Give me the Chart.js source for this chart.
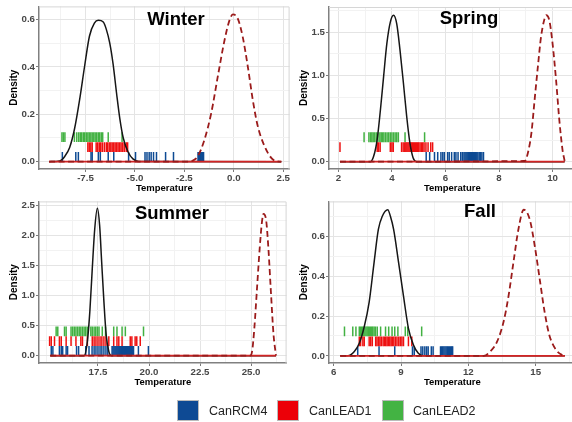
<!DOCTYPE html>
<html><head><meta charset="utf-8">
<script src="https://cdn.jsdelivr.net/npm/chart.js@4.4.0/dist/chart.umd.min.js"></script>
<style>
html,body{margin:0;padding:0;background:#fff;overflow:hidden;width:572px;height:422px;}
#wrap{position:relative;width:572px;height:422px;overflow:hidden;font-family:"Liberation Sans",Arial,sans-serif;}
canvas{position:absolute;}
.ttl{position:absolute;font-weight:bold;font-size:18.5px;color:#000;transform:translate(-50%,-50%);white-space:nowrap;line-height:1;}
.sq{position:absolute;width:22px;height:21px;box-sizing:border-box;border:1px solid #bbb;}
.lt{position:absolute;font-size:12.5px;color:#222;transform:translateY(-50%);white-space:nowrap;line-height:1;}
</style></head>
<body><div id="wrap"></div>
<script>
// ---------- DATA ----------
const seasons = ['Winter', 'Spring', 'Summer', 'Fall'];
const seriesNames = ['CanRCM4', 'CanLEAD1', 'CanLEAD2'];

// Winter
const winterExtent = [-9.34, 2.4];
const winterSolidX = [-9.34, -8.8, -8.55, -8.3, -8.05, -7.8, -7.55, -7.3, -7.05, -6.85, -6.6, -6.45, -6.27, -6.1, -5.93, -5.76, -5.59, -5.34, -5.1, -4.8, 2.4];
const winterSolidY = [0, 0.003, 0.022, 0.06, 0.14, 0.26, 0.40, 0.53, 0.585, 0.597, 0.59, 0.56, 0.50, 0.41, 0.29, 0.18, 0.10, 0.04, 0.012, 0.001, 0];
const winterDashX = [-9.34, -2.25, -2.0, -1.81, -1.48, -1.14, -0.81, -0.47, -0.22, -0.05, 0.2, 0.45, 0.71, 0.96, 1.21, 1.55, 1.88, 2.13, 2.4];
const winterDashY = [0, 0, 0.008, 0.024, 0.094, 0.206, 0.36, 0.513, 0.597, 0.622, 0.604, 0.527, 0.40, 0.26, 0.15, 0.066, 0.017, 0.002, 0];
const winterRCM4 = [-8.67, -7.99, -7.86, -7.22, -7.16, -6.85, -6.75, -6.35, -6.07, -5.32, -4.97, -4.49, -4.39, -4.28, -4.18, -4.06, -3.91, -3.45, -3.05, -1.81, -1.77, -1.73, -1.69, -1.65, -1.61, -1.57, -1.53];
const winterLEAD1 = [-7.38, -7.31, -7.23, -7.16, -6.96, -6.88, -6.80, -6.73, -6.65, -6.55, -6.45, -6.38, -6.30, -6.22, -6.15, -6.07, -6.00, -5.92, -5.85, -5.77, -5.70, -5.62, -5.54, -5.44, -5.37];
const winterLEAD2 = [-8.69, -8.62, -8.54, -8.06, -7.94, -7.84, -7.76, -7.69, -7.61, -7.54, -7.46, -7.38, -7.31, -7.23, -7.16, -7.08, -7.01, -6.93, -6.85, -6.78, -6.70, -6.63, -6.35, -5.65];
const winterXTicks = [-7.5, -5, -2.5, 0, 2.5];
const winterXLabels = ['-7.5', '-5.0', '-2.5', '0.0', '2.5'];
const winterYTicks = [0, 0.2, 0.4, 0.6];
const winterYLabels = ['0.0', '0.2', '0.4', '0.6'];

// Spring
const springExtent = [2.06, 10.45];
const springSolidX = [2.06, 3.2, 3.32, 3.45, 3.57, 3.69, 3.81, 3.94, 4.06, 4.18, 4.30, 4.43, 4.55, 4.67, 4.79, 4.92, 10.45];
const springSolidY = [0, 0, 0.065, 0.26, 0.60, 0.99, 1.37, 1.62, 1.70, 1.60, 1.30, 0.91, 0.53, 0.22, 0.046, 0, 0];
const springDashX = [2.06, 8.96, 9.08, 9.21, 9.33, 9.45, 9.57, 9.70, 9.76, 9.88, 10.0, 10.13, 10.25, 10.37, 10.45];
const springDashY = [0, 0.008, 0.104, 0.335, 0.72, 1.10, 1.45, 1.66, 1.70, 1.64, 1.37, 0.95, 0.49, 0.14, 0.01];
const springRCM4 = [5.28, 5.41, 5.59, 5.71, 5.83, 5.90, 5.96, 6.08, 6.14, 6.23, 6.33, 6.39, 6.47, 6.57, 6.63, 6.69, 6.73, 6.77, 6.81, 6.85, 6.89, 6.93, 6.97, 7.01, 7.05, 7.09, 7.13, 7.17, 7.21, 7.26, 7.31, 7.36, 7.42];
const springLEAD1 = [2.06, 3.45, 3.5, 3.56, 3.94, 4.0, 4.05, 4.36, 4.42, 4.48, 4.52, 4.56, 4.6, 4.64, 4.68, 4.72, 4.76, 4.8, 4.84, 4.88, 4.92, 4.96, 5.0, 5.05, 5.1, 5.15, 5.2, 5.27, 5.35, 5.45, 5.52];
const springLEAD2 = [2.96, 3.14, 3.2, 3.25, 3.3, 3.36, 3.42, 3.48, 3.55, 3.6, 3.65, 3.7, 3.76, 3.82, 3.88, 3.94, 4.0, 4.06, 4.12, 4.18, 4.24, 4.49, 5.22];
const springXTicks = [2, 4, 6, 8, 10];
const springXLabels = ['2', '4', '6', '8', '10'];
const springYTicks = [0, 0.5, 1, 1.5];
const springYLabels = ['0.0', '0.5', '1.0', '1.5'];

// Summer
const summerExtent = [15.16, 26.22];
const summerSolidX = [15.16, 16.82, 16.98, 17.10, 17.22, 17.34, 17.47, 17.58, 17.68, 17.79, 17.90, 18.03, 18.16, 26.22];
const summerSolidY = [0, 0, 0.237, 0.734, 1.45, 2.11, 2.456, 2.17, 1.56, 0.90, 0.35, 0.072, 0, 0];
const summerDashX = [15.16, 24.95, 25.05, 25.16, 25.29, 25.42, 25.53, 25.61, 25.74, 25.85, 25.97, 26.10, 26.22];
const summerDashY = [0, 0, 0.072, 0.458, 1.12, 1.78, 2.22, 2.36, 2.25, 1.78, 1.07, 0.35, 0];
const summerRCM4 = [15.21, 15.29, 15.61, 15.70, 15.77, 15.94, 16.01, 16.45, 16.55, 16.90, 17.06, 17.21, 17.31, 17.40, 17.50, 17.60, 17.69, 17.79, 17.89, 17.98, 18.19, 18.24, 18.29, 18.34, 18.39, 18.44, 18.49, 18.54, 18.59, 18.64, 18.69, 18.74, 18.79, 18.84, 18.89, 18.94, 18.99, 19.04, 19.09, 19.14, 19.19, 19.24, 19.48, 19.97];
const summerLEAD1 = [15.13, 15.21, 15.37, 15.61, 15.70, 15.94, 16.18, 16.42, 16.66, 16.74, 16.98, 17.22, 17.31, 17.40, 17.50, 17.60, 17.69, 17.79, 17.89, 18.03, 18.27, 18.43, 18.52, 18.68, 19.08, 19.16, 19.32, 19.40, 19.57];
const summerLEAD2 = [15.45, 15.53, 15.86, 15.94, 16.18, 16.26, 16.34, 16.42, 16.50, 16.58, 16.66, 16.74, 16.82, 16.90, 16.98, 17.15, 17.22, 17.31, 17.39, 17.47, 17.55, 17.71, 17.87, 18.27, 18.43, 18.68, 18.84, 19.73];
const summerXTicks = [17.5, 20, 22.5, 25];
const summerXLabels = ['17.5', '20.0', '22.5', '25.0'];
const summerYTicks = [0, 0.5, 1, 1.5, 2, 2.5];
const summerYLabels = ['0.0', '0.5', '1.0', '1.5', '2.0', '2.5'];

// Fall
const fallExtent = [6.29, 16.3];
const fallSolidX = [6.29, 6.63, 6.92, 7.14, 7.36, 7.58, 7.80, 7.99, 8.16, 8.41, 8.53, 8.67, 8.89, 9.11, 9.33, 9.55, 9.77, 9.99, 16.3];
const fallSolidY = [0, 0, 0.022, 0.063, 0.146, 0.27, 0.47, 0.635, 0.70, 0.734, 0.70, 0.635, 0.47, 0.30, 0.138, 0.055, 0.013, 0, 0];
const fallDashX = [6.29, 12.69, 12.98, 13.28, 13.57, 13.79, 14.01, 14.23, 14.47, 14.74, 14.96, 15.18, 15.40, 15.61, 15.91, 16.20, 16.3];
const fallDashY = [0, 0, 0.022, 0.071, 0.171, 0.30, 0.47, 0.635, 0.734, 0.684, 0.552, 0.386, 0.22, 0.104, 0.030, 0.003, 0];
const fallRCM4 = [7.07, 8.02, 8.72, 9.51, 9.59, 9.89, 9.97, 10.06, 10.14, 10.21, 10.35, 10.43, 10.76, 10.81, 10.86, 10.91, 10.96, 11.01, 11.06, 11.11, 11.16, 11.21, 11.26, 11.30];
const fallLEAD1 = [7.14, 7.2, 7.3, 7.36, 7.58, 7.65, 7.72, 7.87, 7.93, 8.0, 8.06, 8.12, 8.2, 8.26, 8.32, 8.38, 8.44, 8.5, 8.56, 8.62, 8.68, 8.75, 8.82, 8.9, 8.97, 9.04, 9.11, 9.33, 9.48];
const fallLEAD2 = [6.48, 6.85, 6.99, 7.14, 7.19, 7.24, 7.29, 7.34, 7.39, 7.44, 7.49, 7.54, 7.59, 7.64, 7.69, 7.74, 7.8, 7.86, 7.94, 8.09, 8.31, 8.45, 8.6, 8.72, 8.86, 9.19, 9.3, 9.92];
const fallXTicks = [6, 9, 12, 15];
const fallXLabels = ['6', '9', '12', '15'];
const fallYTicks = [0, 0.2, 0.4, 0.6];
const fallYLabels = ['0.0', '0.2', '0.4', '0.6'];

// ---------- STYLE / LAYOUT ----------
const FONT = '"Liberation Sans", Arial, sans-serif';
const COLORS = { rcm4: '#0d4a93', lead1: '#ee1010', lead2: '#42b142', solid: '#161616', dash: '#9b1b1b', base: '#d22424' };
const PLOT_H = 163;
const BAND_OFFSETS = [4.7, 14.6, 24.6]; // pixel centers of rug rows above y=0
const RUG_HALF = 4.9;

const panels = [
  { name: seasons[0], left: 0, top: 0, w: 296, h: 198, padTop: 6, padRight: 3, xmin: -9.85, xmax: 2.82, ymin: -0.031, ymax: 0.656,
    ext: winterExtent, sx: winterSolidX, sy: winterSolidY, dx: winterDashX, dy: winterDashY, rugs: [winterRCM4, winterLEAD1, winterLEAD2],
    xt: winterXTicks, xl: winterXLabels, yt: winterYTicks, yl: winterYLabels, tx: 176, ty: 19 },
  { name: seasons[1], left: 290, top: 0, w: 292, h: 198, padTop: 7, padRight: 2, xmin: 1.65, xmax: 10.86, ymin: -0.085, ymax: 1.795,
    ext: springExtent, sx: springSolidX, sy: springSolidY, dx: springDashX, dy: springDashY, rugs: [springRCM4, springLEAD1, springLEAD2],
    xt: springXTicks, xl: springXLabels, yt: springYTicks, yl: springYLabels, tx: 469, ty: 18 },
  { name: seasons[2], left: 0, top: 195, w: 293, h: 197, padTop: 5, padRight: 3, xmin: 14.61, xmax: 26.74, ymin: -0.122, ymax: 2.57,
    ext: summerExtent, sx: summerSolidX, sy: summerSolidY, dx: summerDashX, dy: summerDashY, rugs: [summerRCM4, summerLEAD1, summerLEAD2],
    xt: summerXTicks, xl: summerXLabels, yt: summerYTicks, yl: summerYLabels, tx: 172, ty: 213 },
  { name: seasons[3], left: 290, top: 195, w: 292, h: 197, padTop: 5, padRight: 2, xmin: 5.79, xmax: 16.78, ymin: -0.036, ymax: 0.776,
    ext: fallExtent, sx: fallSolidX, sy: fallSolidY, dx: fallDashX, dy: fallDashY, rugs: [fallRCM4, fallLEAD1, fallLEAD2],
    xt: fallXTicks, xl: fallXLabels, yt: fallYTicks, yl: fallYLabels, tx: 480, ty: 211 }
];

const wrap = document.getElementById('wrap');

function gridValues(min, max, majors) {
  const step = (majors[1] - majors[0]) / 2;
  const out = [];
  for (let v = Math.ceil((min - 1e-9) / step) * step; v <= max + 1e-9; v += step) out.push(+v.toFixed(6));
  return out;
}
function majorIndex(v, majors) { return majors.findIndex(m => Math.abs(m - v) < 1e-6); }

const borderPlugin = {
  id: 'panelBorder',
  afterDatasetsDraw(chart) {
    const { ctx, chartArea: a } = chart;
    ctx.save();
    ctx.strokeStyle = '#d6d6d6';
    ctx.lineWidth = 1;
    ctx.beginPath();
    ctx.moveTo(a.left, a.top + 0.5); ctx.lineTo(a.right - 0.5, a.top + 0.5); ctx.lineTo(a.right - 0.5, a.bottom);
    ctx.stroke();
    ctx.restore();
  }
};

function axis(min, max, majors, labels, isX) {
  const vals = gridValues(min, max, majors);
  return {
    type: 'linear', min, max,
    afterBuildTicks: s => { s.ticks = vals.map(v => ({ value: v })); },
    afterFit: s => {
      if (isX) { s.height = 29; s.paddingLeft = 0; s.paddingRight = 0; }
      else { s.width = 39; s.paddingTop = 0; s.paddingBottom = 0; }
    },
    ticks: {
      autoSkip: false, maxRotation: 0, minRotation: 0, padding: 1, color: '#474747',
      font: { family: FONT, size: 9.7, weight: 'bold' },
      callback: v => { const i = majorIndex(v, majors); return i >= 0 ? labels[i] : ''; }
    },
    grid: {
      color: c => (c.tick && majorIndex(c.tick.value, majors) >= 0) ? '#e4e4e4' : '#f2f2f2',
      lineWidth: 1,
      tickColor: c => (c.tick && majorIndex(c.tick.value, majors) >= 0) ? '#7a7a7a' : 'rgba(0,0,0,0)',
      tickLength: 3, drawTicks: true
    },
    border: { display: true, color: '#808080', width: 1.5 },
    title: isX
      ? { display: true, text: 'Temperature', color: '#000', font: { family: FONT, size: 9.5, weight: 'bold' }, padding: { top: 0, bottom: 4 } }
      : { display: true, text: 'Density', color: '#000', font: { family: FONT, size: 10, weight: 'bold' }, padding: { top: 8, bottom: 0 } }
  };
}

function lineDs(xs, ys, color, width, dash) {
  return {
    data: xs.map((x, i) => ({ x, y: ys[i] })), showLine: true, pointRadius: 0, pointHoverRadius: 0,
    borderColor: color, borderWidth: width, borderDash: dash || [], cubicInterpolationMode: 'monotone', fill: false
  };
}

panels.forEach(p => {
  const cv = document.createElement('canvas');
  cv.width = p.w; cv.height = p.h;
  cv.style.left = p.left + 'px'; cv.style.top = p.top + 'px';
  cv.style.width = p.w + 'px'; cv.style.height = p.h + 'px';
  wrap.appendChild(cv);

  const yPerPx = (p.ymax - p.ymin) / PLOT_H;
  const rugColors = [COLORS.rcm4, COLORS.lead1, COLORS.lead2];
  const rugDs = p.rugs.map((vals, k) => ({
    data: vals.map(v => ({ x: v, y: BAND_OFFSETS[k] * yPerPx })),
    showLine: false, pointStyle: 'line', pointRotation: 90, pointRadius: RUG_HALF, pointHoverRadius: RUG_HALF,
    pointBorderWidth: 1.5, pointBorderColor: rugColors[k], borderColor: rugColors[k], backgroundColor: rugColors[k]
  }));

  const datasets = [
    lineDs(p.dx, p.dy, COLORS.dash, 1.8, [6, 3.5]),
    lineDs(p.ext, [0, 0], COLORS.base, 1.7),
    lineDs(p.sx, p.sy, COLORS.solid, 1.5),
    rugDs[0], rugDs[1], rugDs[2]
  ];

  new Chart(cv, {
    type: 'scatter',
    data: { datasets },
    options: {
      responsive: false, animation: false, devicePixelRatio: 1,
      layout: { padding: { top: p.padTop, right: p.padRight, left: 0, bottom: 0 } },
      plugins: { legend: { display: false }, tooltip: { enabled: false }, title: { display: false } },
      events: [],
      scales: { x: axis(p.xmin, p.xmax, p.xt, p.xl, true), y: axis(p.ymin, p.ymax, p.yt, p.yl, false) }
    },
    plugins: [borderPlugin]
  });

  const t = document.createElement('div');
  t.className = 'ttl'; t.textContent = p.name;
  t.style.left = p.tx + 'px'; t.style.top = p.ty + 'px';
  wrap.appendChild(t);
});

// legend
const legendColors = ['#0e4a94', '#ec0008', '#43b343'];
const legendSq = [177, 277, 382];
const legendTx = [209, 309, 413];
seriesNames.forEach((n, i) => {
  const s = document.createElement('div');
  s.className = 'sq'; s.style.left = legendSq[i] + 'px'; s.style.top = '400px'; s.style.background = legendColors[i];
  wrap.appendChild(s);
  const l = document.createElement('div');
  l.className = 'lt'; l.textContent = n; l.style.left = legendTx[i] + 'px'; l.style.top = '411px';
  wrap.appendChild(l);
});
</script>
</body></html>
